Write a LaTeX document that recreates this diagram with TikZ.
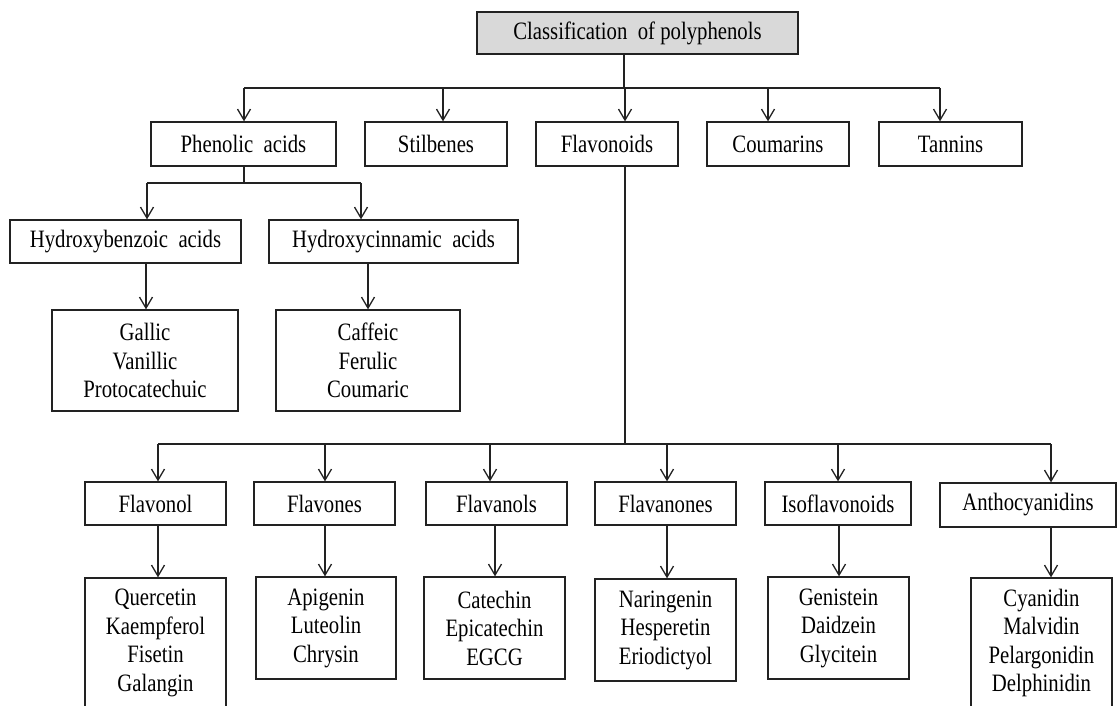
\documentclass[tikz,border=0pt]{standalone}
\usepackage{fontspec}
\setmainfont{Liberation Serif}[FakeStretch=0.83]
\usetikzlibrary{arrows.meta}
\definecolor{rootgray}{HTML}{D9D9D9}
\definecolor{linec}{HTML}{222222}
\tikzset{
  box/.style={draw=linec, line width=1.3pt, inner sep=0pt, align=center,
    font=\fontsize{25}{28.5}\selectfont, text=black},
  arr/.style={draw=linec, line width=1.3pt,
    -{Straight Barb[length=11pt,width=13pt,line width=1.3pt]}},
  ln/.style={draw=linec, line width=1.3pt}
}
\begin{document}
\begin{tikzpicture}[x=1pt,y=-1pt]
\useasboundingbox (0,0) rectangle (1118,706);
\clip (0,0) rectangle (1118,706);

% root
\node[box, fill=rootgray, minimum width=321, minimum height=42] (root) at (637.5,33) {Classification\ \ of polyphenols};

% row 1
\node[box, minimum width=185, minimum height=44] (phen) at (243.5,144) {Phenolic\ \ acids};
\node[box, minimum width=142, minimum height=44] (stil) at (436,144) {Stilbenes};
\node[box, minimum width=142, minimum height=44] (flav) at (607,144) {Flavonoids};
\node[box, minimum width=142, minimum height=44] (coum) at (778,144) {Coumarins};
\node[box, minimum width=143, minimum height=44] (tann) at (950.5,144) {Tannins};

% row 2
\node[box, minimum width=231, minimum height=43] (hb) at (125.5,241.5) {Hydroxybenzoic\ \ acids};
\node[box, minimum width=249, minimum height=43] (hc) at (393.5,241.5) {Hydroxycinnamic\ \ acids};
\node[box, minimum width=186, minimum height=101] (gal) at (145,360.5) {Gallic\\Vanillic\\Protocatechuic};
\node[box, minimum width=184, minimum height=101] (caf) at (368,360.5) {Caffeic\\Ferulic\\Coumaric};

% row 3
\node[box, minimum width=141, minimum height=43] (fvl) at (155.5,503.5) {Flavonol};
\node[box, minimum width=141, minimum height=43] (fvs) at (324.5,503.5) {Flavones};
\node[box, minimum width=141, minimum height=43] (fal) at (496.5,503.5) {Flavanols};
\node[box, minimum width=141, minimum height=43] (fan) at (665.5,503.5) {Flavanones};
\node[box, minimum width=146, minimum height=43] (iso) at (838,503.5) {Isoflavonoids};
\node[box, minimum width=176, minimum height=44] (ant) at (1028,505) {Anthocyanidins};

% row 4
\node[box, minimum width=141, minimum height=130] (l1) at (155.5,643) {Quercetin\\Kaempferol\\Fisetin\\Galangin};
\node[box, minimum width=140, minimum height=102] (l2) at (326,628) {Apigenin\\Luteolin\\Chrysin};
\node[box, minimum width=141, minimum height=102] (l3) at (494.5,628) {Catechin\\Epicatechin\\EGCG};
\node[box, minimum width=141, minimum height=102] (l4) at (665.5,630) {Naringenin\\Hesperetin\\Eriodictyol};
\node[box, minimum width=141, minimum height=102] (l5) at (838.5,628) {Genistein\\Daidzein\\Glycitein};
\node[box, minimum width=141, minimum height=130] (l6) at (1041.5,643) {Cyanidin\\Malvidin\\Pelargonidin\\Delphinidin};

% --- connectors: root to row 1
\coordinate (j0) at (624,88);
\coordinate (t1) at (244,88);
\coordinate (t2) at (443,88);
\coordinate (t3) at (625,88);
\coordinate (t4) at (768,88);
\coordinate (t5) at (940,88);
\draw[ln] (root.south -| j0) -- (j0);
\draw[ln] (t1) -- (t5);
\draw[arr] (t1) -- (t1 |- phen.north);
\draw[arr] (t2) -- (t2 |- stil.north);
\draw[arr] (t3) -- (t3 |- flav.north);
\draw[arr] (t4) -- (t4 |- coum.north);
\draw[arr] (t5) -- (t5 |- tann.north);

% phenolic acids
\coordinate (p0) at (244,183);
\coordinate (p1) at (147,183);
\coordinate (p2) at (361,183);
\draw[ln] (phen.south -| p0) -- (p0);
\draw[ln] (p1) -- (p2);
\draw[arr] (p1) -- (p1 |- hb.north);
\draw[arr] (p2) -- (p2 |- hc.north);
\coordinate (g1) at (146,290);
\coordinate (g2) at (368,290);
\draw[arr] (hb.south -| g1) -- (g1 |- gal.north);
\draw[arr] (hc.south -| g2) -- (g2 |- caf.north);

% flavonoids
\coordinate (f0) at (625,444);
\coordinate (b1) at (158,444);
\coordinate (b2) at (325,444);
\coordinate (b3) at (490,444);
\coordinate (b4) at (667,444);
\coordinate (b5) at (838,444);
\coordinate (b6) at (1051,444);
\draw[ln] (flav.south -| f0) -- (f0);
\draw[ln] (b1) -- (b6);
\draw[arr] (b1) -- (b1 |- fvl.north);
\draw[arr] (b2) -- (b2 |- fvs.north);
\draw[arr] (b3) -- (b3 |- fal.north);
\draw[arr] (b4) -- (b4 |- fan.north);
\draw[arr] (b5) -- (b5 |- iso.north);
\draw[arr] (b6) -- (b6 |- ant.north);

\coordinate (c1) at (158,550);
\coordinate (c2) at (325,550);
\coordinate (c3) at (495,550);
\coordinate (c4) at (667,550);
\coordinate (c5) at (839,550);
\coordinate (c6) at (1051,550);
\draw[arr] (fvl.south -| c1) -- (c1 |- l1.north);
\draw[arr] (fvs.south -| c2) -- (c2 |- l2.north);
\draw[arr] (fal.south -| c3) -- (c3 |- l3.north);
\draw[arr] (fan.south -| c4) -- (c4 |- l4.north);
\draw[arr] (iso.south -| c5) -- (c5 |- l5.north);
\draw[arr] (ant.south -| c6) -- (c6 |- l6.north);
\end{tikzpicture}
\end{document}
